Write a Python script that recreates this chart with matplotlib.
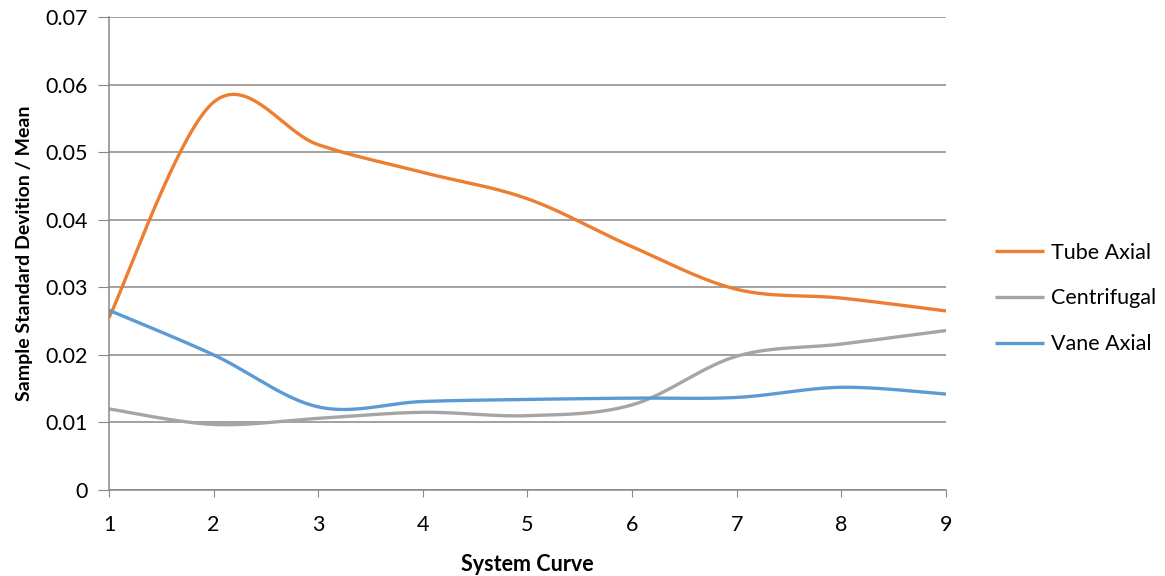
import matplotlib.pyplot as plt
import numpy as np

# Data (one point per system curve).
system_curve = [1, 2, 3, 4, 5, 6, 7, 8, 9]
tube_axial = [0.0255, 0.0574, 0.0511, 0.0470, 0.0431, 0.0360, 0.0297, 0.0284, 0.0265]
centrifugal = [0.0120, 0.0097, 0.0106, 0.0115, 0.0110, 0.0126, 0.0198, 0.0216, 0.0236]
vane_axial = [0.0266, 0.0200, 0.0123, 0.0131, 0.0134, 0.0136, 0.0137, 0.0152, 0.0142]

series = [
    ("Tube Axial", tube_axial, "#ED7D31"),
    ("Centrifugal", centrifugal, "#A5A5A5"),
    ("Vane Axial", vane_axial, "#5B9BD5"),
]


def smooth(x, y, n=40):
    # Excel style smoothed line: cubic Bezier segments, Catmull-Rom controls.
    x = np.asarray(x, float)
    y = np.asarray(y, float)
    px, py = [], []
    for i in range(len(x) - 1):
        i0 = max(i - 1, 0)
        i3 = min(i + 2, len(x) - 1)
        c1 = (x[i] + (x[i + 1] - x[i0]) / 6, y[i] + (y[i + 1] - y[i0]) / 6)
        c2 = (x[i + 1] - (x[i3] - x[i]) / 6, y[i + 1] - (y[i3] - y[i]) / 6)
        t = np.linspace(0, 1, n)
        a, b, c, d = (1 - t) ** 3, 3 * t * (1 - t) ** 2, 3 * t ** 2 * (1 - t), t ** 3
        px.extend(a * x[i] + b * c1[0] + c * c2[0] + d * x[i + 1])
        py.extend(a * y[i] + b * c1[1] + c * c2[1] + d * y[i + 1])
    return px, py


plt.rcParams["font.family"] = ["Lato", "DejaVu Sans"]

fig = plt.figure(figsize=(11.65, 5.76), dpi=100)
ax = fig.add_axes([109 / 1165, 1 - 490 / 576, (946 - 109) / 1165, (490 - 17) / 576])

for name, vals, color in series:
    sx, sy = smooth(system_curve, vals)
    ax.plot(sx, sy, color=color, lw=2.4, label=name, solid_capstyle="butt")

ax.set_xlim(1, 9)
ax.set_ylim(0, 0.07)
ax.set_xticks(system_curve)
ax.set_yticks(np.arange(0, 0.071, 0.01))
ax.set_yticklabels(["0", "0.01", "0.02", "0.03", "0.04", "0.05", "0.06", "0.07"])
ax.grid(axis="y", color="#878787", lw=1.1)
ax.set_axisbelow(True)

for side in ("top", "right"):
    ax.spines[side].set_visible(False)
for side in ("left", "bottom"):
    ax.spines[side].set_color("#878787")
    ax.spines[side].set_linewidth(1.1)

ax.tick_params(axis="y", length=8, color="#878787", labelsize=15.5, pad=7)
ax.tick_params(axis="x", length=5, color="#878787", labelsize=15.5, pad=13)

ax.set_xlabel("System Curve", fontsize=15.5, fontweight="bold", labelpad=14)
ax.set_ylabel("Sample Standard Devition / Mean", fontsize=14, fontweight="bold", labelpad=9)

ax.legend(loc="center left", bbox_to_anchor=(1.035, 0.405), frameon=False,
          fontsize=15.5, handlelength=2.3, handletextpad=0.3, labelspacing=1.2)

fig.savefig("out.png", dpi=100)
